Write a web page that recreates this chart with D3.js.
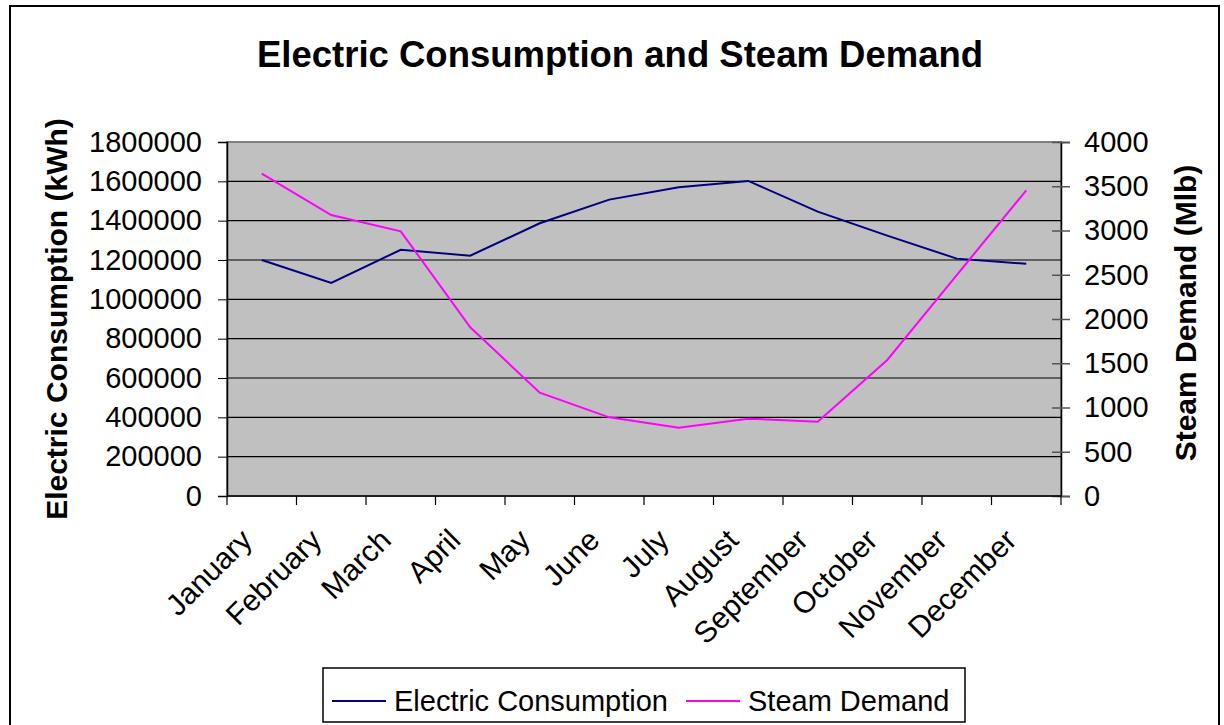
<!DOCTYPE html>
<html>
<head>
<meta charset="utf-8">
<script src="https://cdn.jsdelivr.net/npm/d3@7"></script>
<style>
  body { margin: 0; background: #fff; }
  svg { display: block; font-family: "Liberation Sans", Arial, sans-serif; }
</style>
</head>
<body>
<div id="chart"></div>
<script>
"use strict";

const months = ["January", "February", "March", "April", "May", "June",
  "July", "August", "September", "October", "November", "December"];

// Electric consumption (kWh)
const electricValues = [1200000, 1083000, 1252000, 1222000, 1387000, 1507000,
  1570000, 1602000, 1446000, 1324000, 1207000, 1181000];

// Steam demand (Mlb)
const steamValues = [3642, 3175, 2991, 1906, 1167, 889, 772, 874, 840, 1537, 2497, 3454];

const leftTicks = d3.range(0, 1800001, 200000),
  rightTicks = d3.range(0, 4001, 500);

const width = 1224,
  height = 725;

const margin = {
  top: 142,
  right: 163,
  bottom: 229,
  left: 227,
};

const colElectric = "#000080",
  colSteam = "#FF00FF";

const svg = d3
  .select("#chart")
  .append("svg")
  .attr("width", width)
  .attr("height", height);

// outer chart frame
svg
  .append("rect")
  .attr("x", 10)
  .attr("y", 6)
  .attr("width", 1209)
  .attr("height", 740)
  .attr("fill", "#fff")
  .attr("stroke", "#000")
  .attr("stroke-width", 2);

const x = d3
  .scaleBand()
  .domain(months)
  .range([margin.left, width - margin.right]);

const yLeft = d3
  .scaleLinear()
  .domain([0, 1800000])
  .range([height - margin.bottom, margin.top]);

const yRight = d3
  .scaleLinear()
  .domain([0, 4000])
  .range([height - margin.bottom, margin.top]);

// plot area
svg
  .append("rect")
  .attr("x", margin.left)
  .attr("y", margin.top)
  .attr("width", width - margin.left - margin.right)
  .attr("height", height - margin.top - margin.bottom)
  .attr("fill", "#C0C0C0")
  .attr("stroke", "#808080")
  .attr("stroke-width", 2);

// gridlines
svg
  .append("g")
  .selectAll("line")
  .data(leftTicks.filter((d) => d > 0 && d < 1800000))
  .join("line")
  .attr("x1", margin.left)
  .attr("x2", width - margin.right)
  .attr("y1", (d) => yLeft(d))
  .attr("y2", (d) => yLeft(d))
  .attr("stroke", "#000")
  .attr("stroke-width", 1.2);

// left axis
svg
  .append("g")
  .attr("transform", `translate(${margin.left},0)`)
  .call(d3.axisLeft(yLeft).tickValues(leftTicks).tickFormat(d3.format("d")).tickSize(9).tickPadding(16))
  .call((g) => g.select(".domain").attr("stroke", "#000").attr("stroke-width", 1.5))
  .call((g) => g.selectAll(".tick line").attr("stroke", "#000"))
  .call((g) => g.selectAll(".tick text").attr("font-size", 29).attr("fill", "#000"))
  .attr("font-family", null);

// right axis: ticks cross the axis line
svg
  .append("g")
  .attr("transform", `translate(${width - margin.right},0)`)
  .call(d3.axisRight(yRight).tickValues(rightTicks).tickFormat(d3.format("d")).tickSize(9).tickPadding(14))
  .call((g) => g.select(".domain").attr("stroke", "#000").attr("stroke-width", 1.5))
  .call((g) => g.selectAll(".tick line").attr("x1", -9).attr("stroke", "#555").attr("stroke-width", 1.5))
  .call((g) => g.selectAll(".tick text").attr("font-size", 29).attr("fill", "#000"))
  .attr("font-family", null);

// bottom axis with ticks between categories
const xEdges = months.map((m) => x(m)).concat([width - margin.right]);

const gx = svg.append("g");

gx.append("line")
  .attr("x1", margin.left)
  .attr("x2", width - margin.right)
  .attr("y1", height - margin.bottom)
  .attr("y2", height - margin.bottom)
  .attr("stroke", "#000")
  .attr("stroke-width", 1.5);

gx.selectAll(".edge")
  .data(xEdges)
  .join("line")
  .attr("class", "edge")
  .attr("x1", (d) => d)
  .attr("x2", (d) => d)
  .attr("y1", height - margin.bottom)
  .attr("y2", height - margin.bottom + 9)
  .attr("stroke", "#000")
  .attr("stroke-width", 1.2);

gx.selectAll("text")
  .data(months)
  .join("text")
  .attr("transform", (d) => `translate(${x(d) + x.bandwidth() / 2 - 8},${height - margin.bottom + 46}) rotate(-45)`)
  .attr("text-anchor", "end")
  .attr("font-size", 30)
  .text((d) => d);

// lines
const lineElectric = d3
  .line()
  .x((d, i) => x(months[i]) + x.bandwidth() / 2)
  .y((d) => yLeft(d));

const lineSteam = d3
  .line()
  .x((d, i) => x(months[i]) + x.bandwidth() / 2)
  .y((d) => yRight(d));

svg
  .append("path")
  .datum(electricValues)
  .attr("d", lineElectric)
  .attr("fill", "none")
  .attr("stroke", colElectric)
  .attr("stroke-width", 2);

svg
  .append("path")
  .datum(steamValues)
  .attr("d", lineSteam)
  .attr("fill", "none")
  .attr("stroke", colSteam)
  .attr("stroke-width", 2);

// titles
svg
  .append("text")
  .attr("x", 620)
  .attr("y", 67)
  .attr("text-anchor", "middle")
  .attr("font-size", 36.5)
  .attr("font-weight", "bold")
  .text("Electric Consumption and Steam Demand");

svg
  .append("text")
  .attr("transform", `translate(67,${(margin.top + height - margin.bottom) / 2}) rotate(-90)`)
  .attr("text-anchor", "middle")
  .attr("font-size", 30)
  .attr("font-weight", "bold")
  .text("Electric Consumption (kWh)");

svg
  .append("text")
  .attr("transform", `translate(1196,${(margin.top + height - margin.bottom) / 2 - 6}) rotate(-90)`)
  .attr("text-anchor", "middle")
  .attr("font-size", 30)
  .attr("font-weight", "bold")
  .text("Steam Demand (Mlb)");

// legend
const legendItems = [
  { name: "Electric Consumption", color: colElectric, x: 332 },
  { name: "Steam Demand", color: colSteam, x: 686 },
];

const legend = svg.append("g");

legend
  .append("rect")
  .attr("x", 323)
  .attr("y", 668)
  .attr("width", 642)
  .attr("height", 54)
  .attr("fill", "#fff")
  .attr("stroke", "#000")
  .attr("stroke-width", 1.5);

const li = legend
  .selectAll("g")
  .data(legendItems)
  .join("g")
  .attr("transform", (d) => `translate(${d.x},701)`);

li.append("line")
  .attr("x1", 0)
  .attr("x2", 54)
  .attr("stroke", (d) => d.color)
  .attr("stroke-width", 2);

li.append("text")
  .attr("x", 62)
  .attr("dy", "0.35em")
  .attr("font-size", 29)
  .text((d) => d.name);
</script>
</body>
</html>
